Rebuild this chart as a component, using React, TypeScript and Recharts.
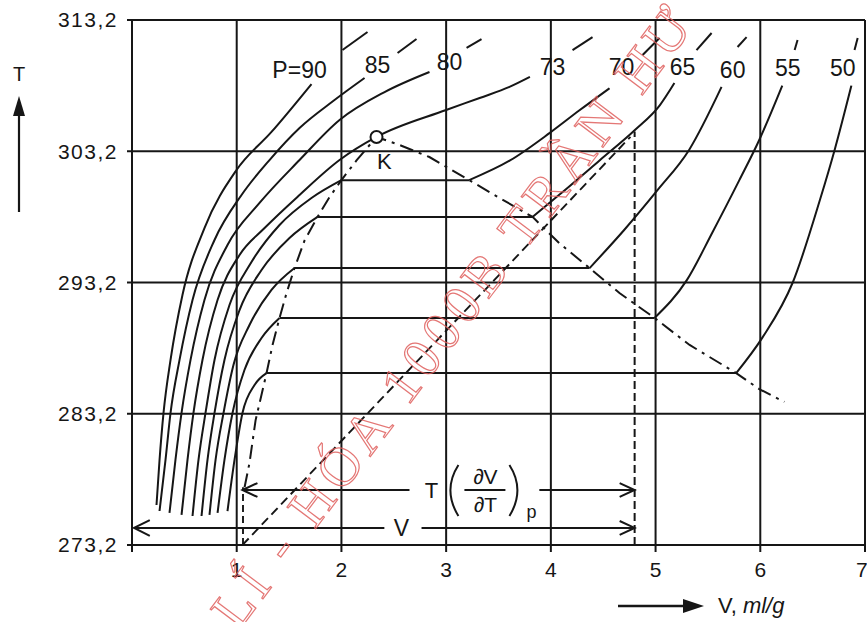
import React from 'react';
import { LineChart, Line, XAxis, YAxis, CartesianGrid, ReferenceDot } from 'recharts';

const FONT = '"Liberation Sans", Arial, Helvetica, sans-serif';
const INK = '#161616';

// axis ticks
const xTicks = [0, 1, 2, 3, 4, 5, 6, 7];
const yTicks = [273.2, 283.2, 293.2, 303.2, 313.2];

// isobars: liquid / supercritical branches [V, T]
const p90 = [[0.234, 276.25], [0.263, 279.68], [0.301, 283.26], [0.368, 287.3], [0.482, 292.25], [0.692, 297.35], [0.998, 301.77], [1.332, 304.67], [1.714, 308.32]];
const p85 = [[0.263, 275.79], [0.32, 279.68], [0.368, 283.26], [0.454, 287.3], [0.578, 291.87], [0.788, 296.44], [1.046, 299.87], [1.313, 302.53], [1.6, 304.97], [1.934, 307.1], [2.221, 308.78]];
const p80 = [[0.358, 275.64], [0.415, 279.68], [0.473, 283.26], [0.559, 287.3], [0.692, 291.87], [0.912, 296.06], [1.218, 299.26], [1.6, 302.53], [1.982, 305.58], [2.412, 307.71], [2.841, 309.24]];
const p73 = [[0.473, 275.49], [0.53, 279.68], [0.587, 283.26], [0.673, 287.3], [0.817, 291.87], [1.027, 295.3], [1.266, 297.35], [1.6, 299.87], [1.982, 302.53], [2.335, 304.29], [3.0, 306.34], [3.32, 307.26], [3.605, 308.1], [3.8, 308.86]];
const p70Liq = [[0.578, 275.41], [0.635, 279.68], [0.702, 283.26], [0.788, 287.3], [0.931, 291.49], [1.141, 294.76], [1.409, 297.58], [1.714, 299.64], [2.0, 301.0]];
const p65Liq = [[0.664, 275.41], [0.721, 279.68], [0.788, 283.26], [0.883, 287.3], [1.027, 291.1], [1.237, 294.15], [1.504, 296.59], [1.772, 298.2]];
const p60Liq = [[0.74, 275.49], [0.798, 279.68], [0.874, 283.26], [0.969, 286.91], [1.122, 289.96], [1.332, 292.63], [1.552, 294.3]];
const p55Liq = [[0.817, 275.64], [0.883, 279.68], [0.96, 283.26], [1.074, 286.53], [1.237, 288.97], [1.409, 290.5]];
const p50Liq = [[0.912, 275.79], [0.979, 279.68], [1.055, 283.26], [1.17, 285.39], [1.285, 286.3]];

// tie lines (two-phase)
const tie70 = [[2.0, 301.0], [3.22, 301.0]];
const tie65 = [[1.772, 298.2], [3.825, 298.2]];
const tie60 = [[1.552, 294.3], [4.37, 294.3]];
const tie55 = [[1.409, 290.5], [4.99, 290.5]];
const tie50 = [[1.285, 286.3], [5.77, 286.3]];

// gas branches
const p70Gas = [[3.22, 301.0], [3.61, 302.5], [3.99, 304.6], [4.27, 306.3], [4.56, 308.0]];
const p65Gas = [[3.825, 298.2], [4.083, 299.9], [4.465, 302.5], [4.8, 304.8], [5.04, 306.7], [5.18, 308.4]];
const p60Gas = [[4.37, 294.3], [4.7, 297.2], [5.02, 300.25], [5.32, 303.3], [5.63, 308.1]];
const p55Gas = [[4.99, 290.5], [5.3, 293.4], [5.545, 297.05], [5.8, 301.0], [5.99, 304.06], [6.21, 308.2]];
const p50Gas = [[5.77, 286.3], [6.02, 289.0], [6.31, 293.2], [6.57, 299.5], [6.71, 303.3], [6.87, 308.2]];

// short dashes continuing each isobar above its label
const ext90 = [[2.01, 310.91], [2.249, 312.29]];
const ext85 = [[2.536, 310.69], [2.717, 311.75]];
const ext80 = [[3.195, 311.07], [3.338, 311.75]];
const ext73 = [[4.207, 310.91], [4.398, 311.9]];
const ext70 = [[4.876, 310.53], [5.038, 311.83]];
const ext65 = [[5.391, 310.91], [5.535, 312.21]];
const ext60 = [[5.783, 311.14], [5.869, 311.9]];
const ext55 = [[6.328, 310.91], [6.356, 311.68]];
const ext50 = [[6.9, 310.91], [6.93, 311.83]];

// coexistence (binodal) curve through the critical point K
const binodal = [[1.075, 277.6], [1.122, 279.45], [1.18, 282.7], [1.285, 286.3], [1.342, 288.44], [1.409, 290.5], [1.476, 292.4], [1.552, 294.3], [1.648, 296.4], [1.772, 298.2], [1.886, 299.7], [2.0, 301.0], [2.144, 302.5], [2.335, 304.29], [2.555, 303.68], [2.84, 302.76], [3.22, 301.0], [3.51, 299.64], [3.825, 298.2], [4.08, 296.2], [4.37, 294.3], [4.655, 292.4], [4.99, 290.5], [5.325, 288.44], [5.77, 286.3], [5.99, 285.08], [6.23, 284.1]];
const critical = { V: 2.335, T: 304.29 };

// construction lines
const diagonal = [[1.055, 273.2], [4.76, 304.3]];
const vLeft = [[1.06, 273.2], [1.06, 277.6]];
const vRight = [[4.8, 273.2], [4.8, 304.7]];

// dimension arrows
const arrTShaftA = [[1.055, 277.39], [2.65, 277.39]];
const arrTShaftB = [[3.89, 277.39], [4.8, 277.39]];
const arrTHeadL = [[1.198, 277.92], [1.055, 277.39], [1.198, 276.86]];
const arrTHeadR = [[4.657, 277.92], [4.8, 277.39], [4.657, 276.86]];
const arrVShaftA = [[0.02, 274.5], [2.41, 274.5]];
const arrVShaftB = [[2.765, 274.5], [4.8, 274.5]];
const arrVHeadL = [[0.17, 275.1], [0.02, 274.5], [0.17, 273.9]];
const arrVHeadR = [[4.657, 275.03], [4.8, 274.5], [4.657, 273.97]];

// isobar labels
const labelText = ['P=90', '85', '80', '73', '70', '65', '60', '55', '50'];
const labelV = [1.6, 2.345, 3.033, 4.016, 4.675, 5.258, 5.736, 6.262, 6.788];
const labelT = [309.39, 309.77, 310.0, 309.62, 309.62, 309.62, 309.39, 309.54, 309.54];

const pts = (a: number[][]) => a.map(([V, T]) => ({ V, T }));

const textLabel = (value: string, size = 23, extra: any = {}) => (props: any) => {
  const vb = props.viewBox || {};
  const cx = (vb.x ?? 0) + (vb.width ?? 0) / 2;
  const cy = (vb.y ?? 0) + (vb.height ?? 0) / 2;
  return (
    <text x={cx} y={cy} textAnchor="middle" dominantBaseline="central" fontFamily={FONT} fontSize={size} fill={INK} {...extra}>
      {value}
    </text>
  );
};

const fractionLabel = (props: any) => {
  const vb = props.viewBox || {};
  const cx = (vb.x ?? 0) + (vb.width ?? 0) / 2;
  const cy = (vb.y ?? 0) + (vb.height ?? 0) / 2;
  return (
    <g fontFamily={FONT} fill={INK}>
      <text x={cx - 43} y={cy} fontSize={22} textAnchor="middle" dominantBaseline="central">T</text>
      <path d={`M ${cx - 16} ${cy - 25} Q ${cx - 32} ${cy} ${cx - 16} ${cy + 26}`} stroke={INK} strokeWidth={2} fill="none" />
      <text x={cx + 11} y={cy - 14} fontSize={21} textAnchor="middle" dominantBaseline="central">∂V</text>
      <line x1={cx - 10} x2={cx + 31} y1={cy} y2={cy} stroke={INK} strokeWidth={1.8} />
      <text x={cx + 11} y={cy + 14} fontSize={21} textAnchor="middle" dominantBaseline="central">∂T</text>
      <path d={`M ${cx + 35} ${cy - 25} Q ${cx + 51} ${cy} ${cx + 35} ${cy + 26}`} stroke={INK} strokeWidth={2} fill="none" />
      <text x={cx + 57} y={cy + 22} fontSize={18} textAnchor="middle" dominantBaseline="central">p</text>
    </g>
  );
};

const solid = (d: number[][], key: string, type: any = 'monotone', w = 2) => (
  <Line key={key} data={pts(d)} dataKey="T" type={type} stroke={INK} strokeWidth={w} dot={false} activeDot={false} isAnimationActive={false} />
);
const dashed = (d: number[][], key: string, dash: string, w = 1.9) => (
  <Line key={key} data={pts(d)} dataKey="T" type="linear" stroke={INK} strokeWidth={w} strokeDasharray={dash} dot={false} activeDot={false} isAnimationActive={false} />
);

export default function App() {
  return (
    <div style={{ position: 'absolute', left: 0, top: 0, width: 867, height: 622, background: '#fff', overflow: 'hidden' }}>
      <LineChart width={867} height={622} margin={{ top: 20, right: 2, bottom: 0, left: 0 }}>
        <CartesianGrid stroke={INK} strokeWidth={2} />
        <XAxis
          dataKey="V"
          type="number"
          domain={[0, 7]}
          ticks={xTicks}
          tickFormatter={(v: number) => (v === 0 ? '' : String(v))}
          height={77}
          stroke={INK}
          strokeWidth={2}
          tickSize={7}
          tickMargin={10}
          tick={{ fontFamily: FONT, fontSize: 21, fill: INK }}
          allowDataOverflow
        />
        <YAxis
          dataKey="T"
          type="number"
          domain={[273.2, 313.2]}
          ticks={yTicks}
          tickFormatter={(v: number) => v.toFixed(1).replace('.', ',')}
          width={132}
          stroke={INK}
          strokeWidth={2}
          tickSize={5}
          tickMargin={9}
          tick={{ fontFamily: FONT, fontSize: 21, fill: INK, letterSpacing: 1.5 }}
          allowDataOverflow
        />

        {dashed(diagonal, 'diag', '9 5')}
        {dashed(vLeft, 'vl', '7 4')}
        {dashed(vRight, 'vr', '8 4', 2)}
        {dashed(binodal, 'bin', '14 6 3 6', 2)}

        {solid(p90, 'p90')}
        {solid(p85, 'p85')}
        {solid(p80, 'p80')}
        {solid(p73, 'p73')}
        {solid(p70Liq, 'p70l')}
        {solid(p65Liq, 'p65l')}
        {solid(p60Liq, 'p60l')}
        {solid(p55Liq, 'p55l')}
        {solid(p50Liq, 'p50l')}
        {solid(tie70, 't70', 'linear')}
        {solid(tie65, 't65', 'linear')}
        {solid(tie60, 't60', 'linear')}
        {solid(tie55, 't55', 'linear')}
        {solid(tie50, 't50', 'linear')}
        {solid(p70Gas, 'p70g')}
        {solid(p65Gas, 'p65g')}
        {solid(p60Gas, 'p60g')}
        {solid(p55Gas, 'p55g')}
        {solid(p50Gas, 'p50g')}

        {solid(ext90, 'e90', 'linear')}
        {solid(ext85, 'e85', 'linear')}
        {solid(ext80, 'e80', 'linear')}
        {solid(ext73, 'e73', 'linear')}
        {solid(ext70, 'e70', 'linear')}
        {solid(ext65, 'e65', 'linear')}
        {solid(ext60, 'e60', 'linear')}
        {solid(ext55, 'e55', 'linear')}
        {solid(ext50, 'e50', 'linear')}

        {solid(arrTShaftA, 'ata', 'linear')}
        {solid(arrTShaftB, 'atb', 'linear')}
        {solid(arrTHeadL, 'athl', 'linear')}
        {solid(arrTHeadR, 'athr', 'linear')}
        {solid(arrVShaftA, 'ava', 'linear')}
        {solid(arrVShaftB, 'avb', 'linear')}
        {solid(arrVHeadL, 'avhl', 'linear')}
        {solid(arrVHeadR, 'avhr', 'linear')}

        {labelText.map((t, i) => (
          <ReferenceDot key={'lab' + i} x={labelV[i]} y={labelT[i]} r={0} fill="none" stroke="none" label={textLabel(t, 23)} />
        ))}
        <ReferenceDot x={critical.V} y={critical.T} r={6} fill="#fff" stroke={INK} strokeWidth={2} />
        <ReferenceDot x={2.41} y={302.45} r={0} fill="none" stroke="none" label={textLabel('K', 22)} />
        <ReferenceDot x={3.27} y={277.39} r={0} fill="none" stroke="none" label={fractionLabel} />
        <ReferenceDot x={2.574} y={274.5} r={0} fill="none" stroke="none" label={textLabel('V', 23)} />
      </LineChart>

      <svg width={867} height={622} style={{ position: 'absolute', left: 0, top: 0, pointerEvents: 'none' }}>
        <text x={19} y={74} textAnchor="middle" dominantBaseline="central" fontFamily={FONT} fontSize={20} fill={INK}>T</text>
        <line x1={19} y1={212} x2={19} y2={112} stroke={INK} strokeWidth={2.2} />
        <path d="M 19 96 L 13 116 L 25 116 Z" fill={INK} />

        <line x1={618} y1={606} x2={690} y2={606} stroke={INK} strokeWidth={2.4} />
        <path d="M 704 606 L 683 599 L 683 613 Z" fill={INK} />
        <text x={718} y={613} fontFamily={FONT} fontSize={22} fill={INK}>
          V, <tspan fontStyle="italic">ml/g</tspan>
        </text>

        <text
          x={0}
          y={0}
          transform="translate(238,632) rotate(-53)"
          fontFamily='"Liberation Serif", "DejaVu Serif", serif'
          fontSize={55}
          fill="none"
          stroke="#e0605e"
          strokeWidth={1.2}
          opacity={0.85}
          letterSpacing={6}
        >
          LÍ - HÓA 1000B TRẦN HƯ
        </text>
      </svg>
    </div>
  );
}
